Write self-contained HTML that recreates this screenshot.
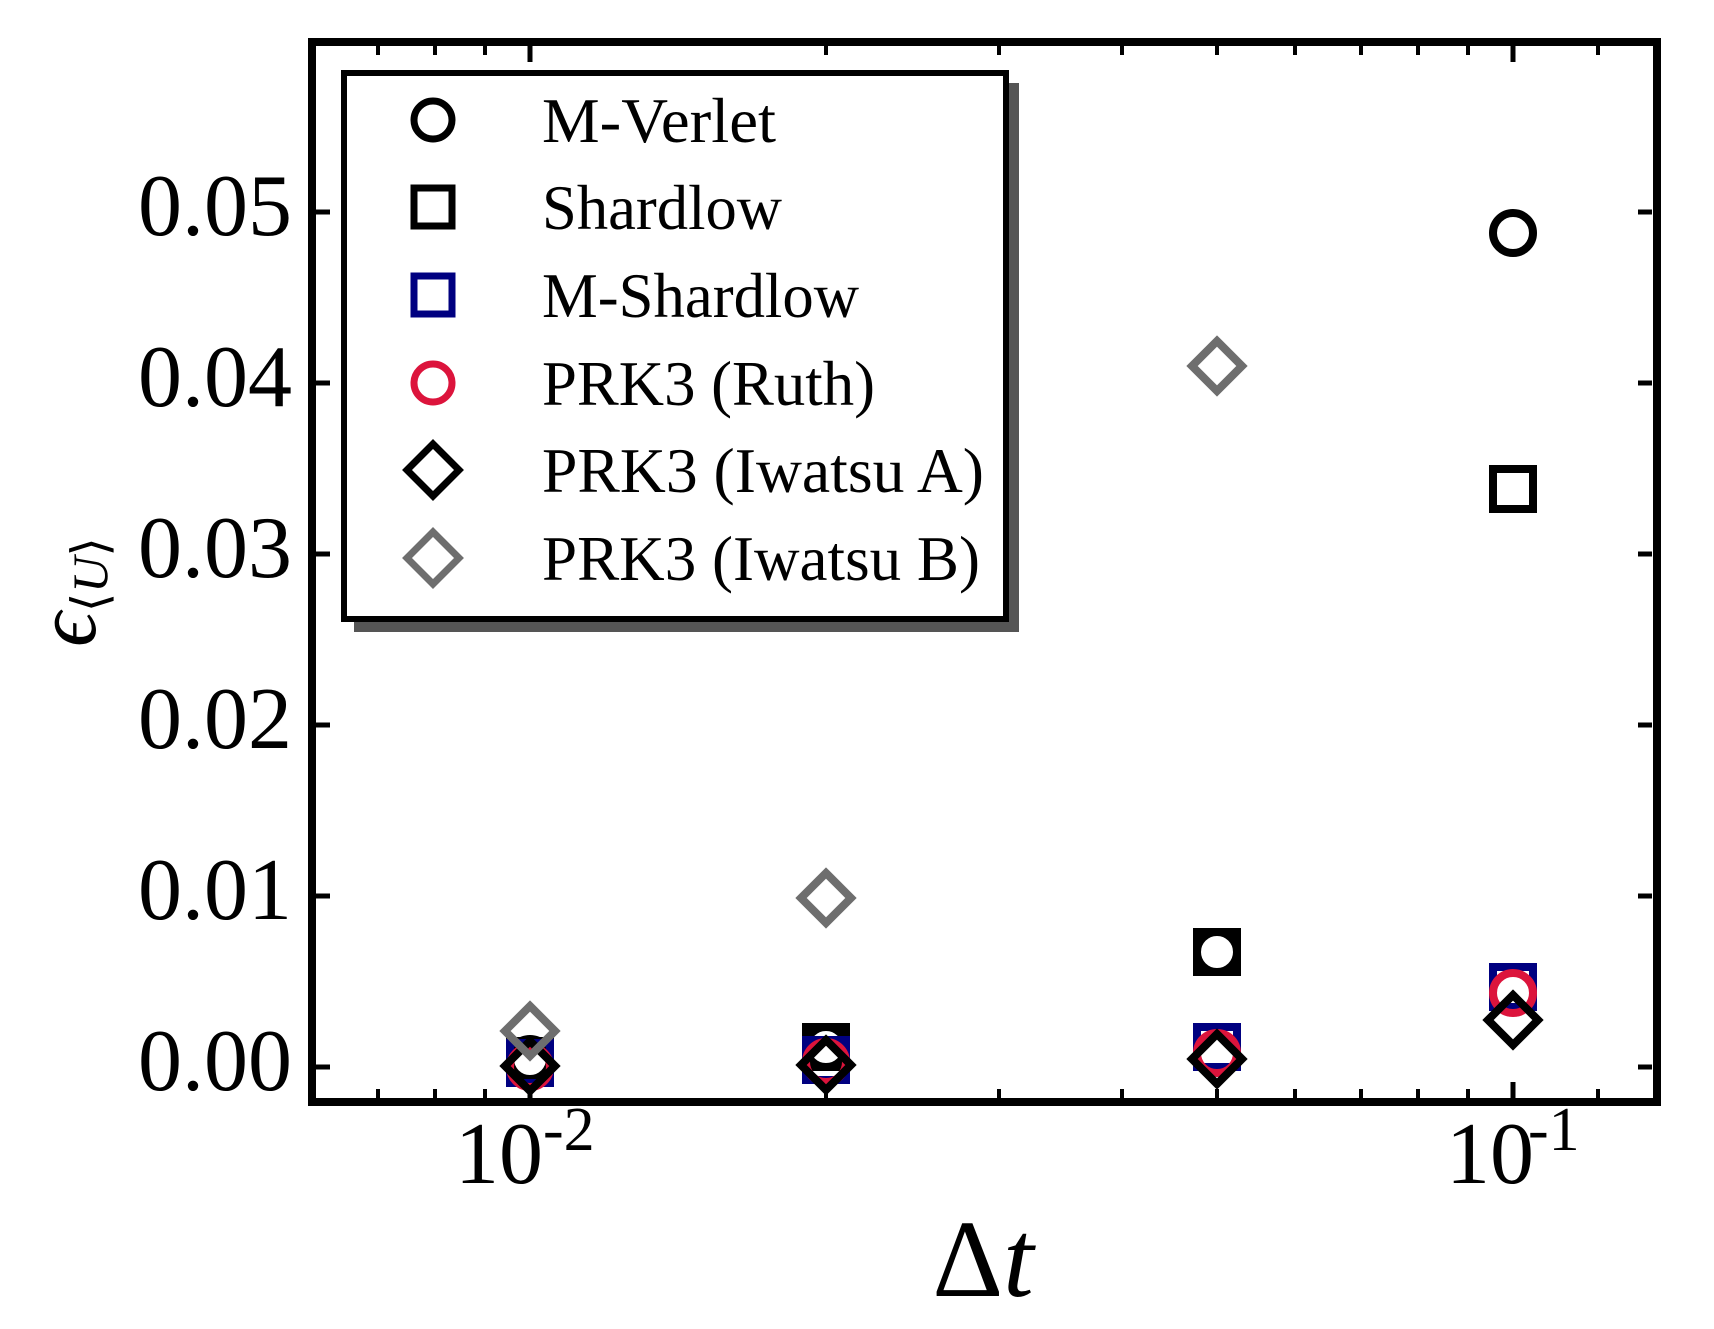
<!DOCTYPE html>
<html><head><meta charset="utf-8"><style>html,body{margin:0;padding:0;background:#fff}svg{display:block}</style></head>
<body>
<svg width="1714" height="1329" viewBox="0 0 1714 1329" xmlns="http://www.w3.org/2000/svg" font-family="Liberation Serif, serif">
<rect width="1714" height="1329" fill="#fff"/>
<defs>
<circle id="c" r="20" fill="none" stroke-width="8"/>
<rect id="s" x="-20" y="-20" width="40" height="40" fill="none" stroke-width="8"/>
<path id="d" d="M0,-25 L25,0 L0,25 L-25,0 Z" fill="none" stroke-width="8"/>
<circle id="lc" r="19" fill="none" stroke-width="7"/>
<rect id="ls" x="-19" y="-19" width="38" height="38" fill="none" stroke-width="7"/>
<path id="ld" d="M0,-26 L26,0 L0,26 L-26,0 Z" fill="none" stroke-width="7"/>
</defs>
<g stroke="#000" stroke-width="5">
<path d="M316,212h14M316,383h14M316,554h14M316,725h14M316,896h14M316,1067h14"/>
<path d="M1652,212h-14M1652,383h-14M1652,554h-14M1652,725h-14M1652,896h-14M1652,1067h-14"/>
<path d="M530,1098v-16M1513,1098v-16M530,46v16M1513,46v16"/>
</g>
<g stroke="#000" stroke-width="4">
<path d="M378,1098v-9M435,1098v-9M485,1098v-9M826,1098v-9M999,1098v-9M1122,1098v-9M1217,1098v-9M1295,1098v-9M1361,1098v-9M1418,1098v-9M1468,1098v-9M1598,1098v-9"/>
<path d="M378,46v9M435,46v9M485,46v9M826,46v9M999,46v9M1122,46v9M1217,46v9M1295,46v9M1361,46v9M1418,46v9M1468,46v9M1598,46v9"/>
</g>
<g stroke="#000">
<use href="#c" x="1513" y="233"/><use href="#c" x="1217" y="952"/><use href="#c" x="826" y="1047"/><use href="#c" x="530" y="1059"/>
<use href="#s" x="1513" y="489"/><use href="#s" x="1217" y="952"/><use href="#s" x="826" y="1047"/><use href="#s" x="530" y="1061"/>
</g>
<g stroke="#000080">
<use href="#s" x="1513" y="987"/><use href="#s" x="1217" y="1047"/><use href="#s" x="826" y="1060"/><use href="#s" x="530" y="1063"/>
</g>
<g stroke="#dc143c">
<use href="#c" x="1513" y="993"/><use href="#c" x="1217" y="1053"/><use href="#c" x="826" y="1062"/><use href="#c" x="530" y="1067"/>
</g>
<g stroke="#000">
<use href="#d" x="1513" y="1020"/><use href="#d" x="1217" y="1059"/><use href="#d" x="826" y="1065"/><use href="#d" x="530" y="1066"/>
</g>
<g stroke="#6e6e6e">
<use href="#d" x="1217" y="366"/><use href="#d" x="826" y="898"/><use href="#d" x="530" y="1031"/>
</g>
<rect x="312" y="42" width="1345" height="1060" fill="none" stroke="#000" stroke-width="8"/>
<rect x="354" y="83" width="665" height="549" fill="#555"/>
<rect x="344" y="73" width="662" height="546" fill="#fff" stroke="#000" stroke-width="6"/>
<use href="#lc" x="433" y="120" stroke="#000"/>
<use href="#ls" x="433" y="207" stroke="#000"/>
<use href="#ls" x="433" y="295" stroke="#000080"/>
<use href="#lc" x="433" y="383" stroke="#dc143c"/>
<use href="#ld" x="433" y="470" stroke="#000"/>
<use href="#ld" x="433" y="558" stroke="#6e6e6e"/>
<g font-size="63" fill="#000">
<text x="542" y="142" textLength="234" lengthAdjust="spacingAndGlyphs">M-Verlet</text>
<text x="542" y="229" textLength="240" lengthAdjust="spacingAndGlyphs">Shardlow</text>
<text x="542" y="317" textLength="317" lengthAdjust="spacingAndGlyphs">M-Shardlow</text>
<text x="542" y="405" textLength="333" lengthAdjust="spacingAndGlyphs">PRK3 (Ruth)</text>
<text x="542" y="492" textLength="442" lengthAdjust="spacingAndGlyphs">PRK3 (Iwatsu A)</text>
<text x="542" y="580" textLength="438" lengthAdjust="spacingAndGlyphs">PRK3 (Iwatsu B)</text>
</g>
<g font-size="88" fill="#000" text-anchor="end">
<text x="292" y="235">0.05</text>
<text x="292" y="406">0.04</text>
<text x="292" y="577">0.03</text>
<text x="292" y="748">0.02</text>
<text x="292" y="919">0.01</text>
<text x="292" y="1090">0.00</text>
</g>
<g font-size="88" fill="#000">
<text x="455" y="1183">10</text><text x="543" y="1150" font-size="62">-2</text>
<text x="1446" y="1183">10</text><text x="1528" y="1150" font-size="62">-1</text>
</g>
<text x="983" y="1296" font-size="110" text-anchor="middle">Δ<tspan font-style="italic">t</tspan></text>
<text transform="translate(95,592) rotate(-90)" font-size="86" text-anchor="middle"><tspan font-style="italic">ϵ</tspan><tspan font-size="50" dy="12">⟨<tspan font-style="italic">U</tspan>⟩</tspan></text>
</svg>
</body></html>
